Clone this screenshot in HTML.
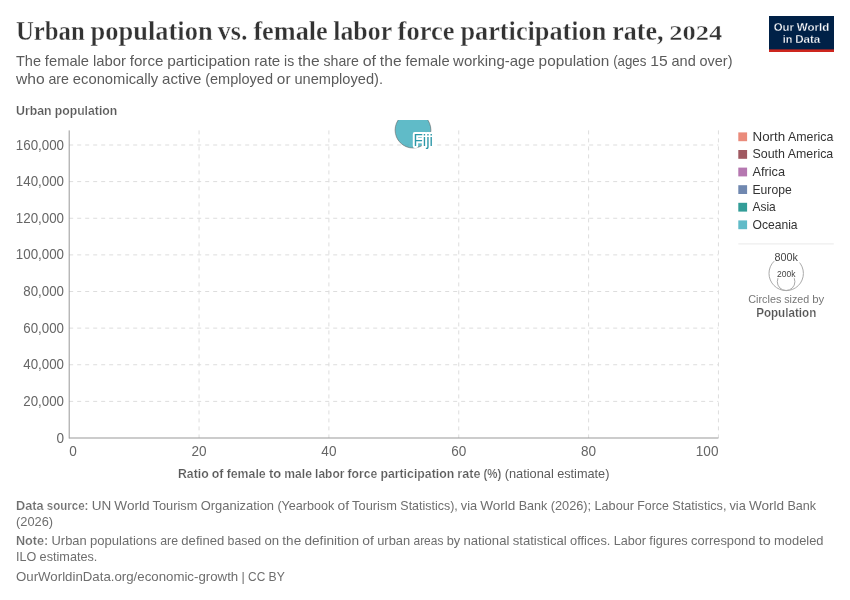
<!DOCTYPE html>
<html lang="en"><head><meta charset="utf-8"><title>Urban population vs. female labor force participation rate, 2024</title>
<style>html,body{margin:0;padding:0;background:#fff}svg{display:block}text{white-space:pre}</style></head><body>
<svg width="850" height="600" viewBox="0 0 850 600">
<rect width="850" height="600" fill="#fff"/>
<text id="t1" x="16" y="40.0" font-size="26.46" fill="#333" font-weight="600" text-anchor="start" font-family='"Liberation Serif", serif' stroke="#fff" stroke-width="0.35"><tspan x="16.00" textLength="68.73" lengthAdjust="spacingAndGlyphs">Urban</tspan> <tspan x="90.58" textLength="122.09" lengthAdjust="spacingAndGlyphs">population</tspan> <tspan x="217.84" textLength="29.70" lengthAdjust="spacingAndGlyphs">vs.</tspan> <tspan x="253.39" textLength="74.39" lengthAdjust="spacingAndGlyphs">female</tspan> <tspan x="333.19" textLength="58.55" lengthAdjust="spacingAndGlyphs">labor</tspan> <tspan x="397.58" textLength="57.03" lengthAdjust="spacingAndGlyphs">force</tspan> <tspan x="460.44" textLength="145.92" lengthAdjust="spacingAndGlyphs">participation</tspan> <tspan x="612.20" textLength="51.28" lengthAdjust="spacingAndGlyphs">rate,</tspan> <tspan x="669.19" font-size="20.5" textLength="53.05" lengthAdjust="spacingAndGlyphs">2024</tspan></text>
<text id="t2" x="16" y="66.0" font-size="15.0" fill="#5b5b5b" font-weight="400" text-anchor="start" font-family='"Liberation Sans", sans-serif'><tspan x="16.00" textLength="25.03" lengthAdjust="spacingAndGlyphs">The</tspan> <tspan x="44.86" textLength="44.19" lengthAdjust="spacingAndGlyphs">female</tspan> <tspan x="92.88" textLength="33.06" lengthAdjust="spacingAndGlyphs">labor</tspan> <tspan x="129.77" textLength="33.62" lengthAdjust="spacingAndGlyphs">force</tspan> <tspan x="167.22" textLength="83.22" lengthAdjust="spacingAndGlyphs">participation</tspan> <tspan x="254.25" textLength="25.98" lengthAdjust="spacingAndGlyphs">rate</tspan> <tspan x="284.06" textLength="10.11" lengthAdjust="spacingAndGlyphs">is</tspan> <tspan x="297.98" textLength="21.69" lengthAdjust="spacingAndGlyphs">the</tspan> <tspan x="323.50" textLength="35.41" lengthAdjust="spacingAndGlyphs">share</tspan> <tspan x="362.73" textLength="13.33" lengthAdjust="spacingAndGlyphs">of</tspan> <tspan x="379.89" textLength="21.69" lengthAdjust="spacingAndGlyphs">the</tspan> <tspan x="405.39" textLength="44.20" lengthAdjust="spacingAndGlyphs">female</tspan> <tspan x="453.11" textLength="81.67" lengthAdjust="spacingAndGlyphs">working-age</tspan> <tspan x="538.61" textLength="70.70" lengthAdjust="spacingAndGlyphs">population</tspan> <tspan x="613.14" textLength="33.30" lengthAdjust="spacingAndGlyphs">(ages</tspan> <tspan x="650.25" textLength="17.42" lengthAdjust="spacingAndGlyphs">15</tspan> <tspan x="671.50" textLength="24.23" lengthAdjust="spacingAndGlyphs">and</tspan> <tspan x="699.56" textLength="32.91" lengthAdjust="spacingAndGlyphs">over)</tspan></text>
<text id="t3" x="16" y="84.0" font-size="15.0" fill="#5b5b5b" font-weight="400" text-anchor="start" font-family='"Liberation Sans", sans-serif'><tspan x="16.00" textLength="28.67" lengthAdjust="spacingAndGlyphs">who</tspan> <tspan x="48.48" textLength="20.55" lengthAdjust="spacingAndGlyphs">are</tspan> <tspan x="72.86" textLength="85.34" lengthAdjust="spacingAndGlyphs">economically</tspan> <tspan x="162.02" textLength="39.33" lengthAdjust="spacingAndGlyphs">active</tspan> <tspan x="205.17" textLength="67.88" lengthAdjust="spacingAndGlyphs">(employed</tspan> <tspan x="276.88" textLength="13.67" lengthAdjust="spacingAndGlyphs">or</tspan> <tspan x="294.38" textLength="88.59" lengthAdjust="spacingAndGlyphs">unemployed).</tspan></text>
<g id="logo"><rect x="769" y="16" width="65" height="36" fill="#002147"/><rect x="769" y="49.4" width="65" height="2.6" fill="#ce261e"/>
<text id="t4" x="773.73" y="30.7" font-size="11.8" fill="#fff" font-weight="700" text-anchor="start" font-family='"Liberation Sans", sans-serif' stroke="#002147" stroke-width="0.3"><tspan x="773.73" textLength="20.27" lengthAdjust="spacingAndGlyphs">Our</tspan> <tspan x="796.77" textLength="32.50" lengthAdjust="spacingAndGlyphs">World</tspan></text>
<text id="t5" x="782.69" y="42.8" font-size="11.8" fill="#fff" font-weight="700" text-anchor="start" font-family='"Liberation Sans", sans-serif' stroke="#002147" stroke-width="0.3"><tspan x="782.69" textLength="9.66" lengthAdjust="spacingAndGlyphs">in</tspan> <tspan x="795.20" textLength="25.11" lengthAdjust="spacingAndGlyphs">Data</tspan></text>
</g>
<text id="t6" x="16" y="115.0" font-size="13.0" fill="#5b5b5b" font-weight="700" text-anchor="start" font-family='"Liberation Sans", sans-serif' stroke="#fff" stroke-width="0.2"><tspan x="16.00" textLength="35.61" lengthAdjust="spacingAndGlyphs">Urban</tspan> <tspan x="54.75" textLength="62.48" lengthAdjust="spacingAndGlyphs">population</tspan></text>
<line x1="69.2" y1="401.38" x2="718.45" y2="401.38" stroke="#ddd" stroke-width="1" stroke-dasharray="4,4"/>
<line x1="69.2" y1="364.75" x2="718.45" y2="364.75" stroke="#ddd" stroke-width="1" stroke-dasharray="4,4"/>
<line x1="69.2" y1="328.12" x2="718.45" y2="328.12" stroke="#ddd" stroke-width="1" stroke-dasharray="4,4"/>
<line x1="69.2" y1="291.50" x2="718.45" y2="291.50" stroke="#ddd" stroke-width="1" stroke-dasharray="4,4"/>
<line x1="69.2" y1="254.88" x2="718.45" y2="254.88" stroke="#ddd" stroke-width="1" stroke-dasharray="4,4"/>
<line x1="69.2" y1="218.25" x2="718.45" y2="218.25" stroke="#ddd" stroke-width="1" stroke-dasharray="4,4"/>
<line x1="69.2" y1="181.62" x2="718.45" y2="181.62" stroke="#ddd" stroke-width="1" stroke-dasharray="4,4"/>
<line x1="69.2" y1="145.00" x2="718.45" y2="145.00" stroke="#ddd" stroke-width="1" stroke-dasharray="4,4"/>
<line x1="199.05" y1="130.4" x2="199.05" y2="438" stroke="#ddd" stroke-width="1" stroke-dasharray="4,4"/>
<line x1="328.90" y1="130.4" x2="328.90" y2="438" stroke="#ddd" stroke-width="1" stroke-dasharray="4,4"/>
<line x1="458.75" y1="130.4" x2="458.75" y2="438" stroke="#ddd" stroke-width="1" stroke-dasharray="4,4"/>
<line x1="588.60" y1="130.4" x2="588.60" y2="438" stroke="#ddd" stroke-width="1" stroke-dasharray="4,4"/>
<line x1="718.45" y1="130.4" x2="718.45" y2="438" stroke="#ddd" stroke-width="1" stroke-dasharray="4,4"/>
<line x1="69.2" y1="130.4" x2="69.2" y2="438.5" stroke="#999" stroke-width="1"/>
<line x1="69.2" y1="438" x2="718.45" y2="438" stroke="#999" stroke-width="1"/>
<text id="t7" x="64.0" y="442.6" font-size="13.78" fill="#666" font-weight="400" text-anchor="end" font-family='"Liberation Sans", sans-serif' textLength="7.55" lengthAdjust="spacingAndGlyphs">0</text>
<text id="t8" x="64.0" y="405.98" font-size="13.78" fill="#666" font-weight="400" text-anchor="end" font-family='"Liberation Sans", sans-serif' textLength="40.66" lengthAdjust="spacingAndGlyphs">20,000</text>
<text id="t9" x="64.0" y="369.35" font-size="13.78" fill="#666" font-weight="400" text-anchor="end" font-family='"Liberation Sans", sans-serif' textLength="40.66" lengthAdjust="spacingAndGlyphs">40,000</text>
<text id="t10" x="64.0" y="332.73" font-size="13.78" fill="#666" font-weight="400" text-anchor="end" font-family='"Liberation Sans", sans-serif' textLength="40.66" lengthAdjust="spacingAndGlyphs">60,000</text>
<text id="t11" x="64.0" y="296.1" font-size="13.78" fill="#666" font-weight="400" text-anchor="end" font-family='"Liberation Sans", sans-serif' textLength="40.66" lengthAdjust="spacingAndGlyphs">80,000</text>
<text id="t12" x="64.0" y="259.48" font-size="13.78" fill="#666" font-weight="400" text-anchor="end" font-family='"Liberation Sans", sans-serif' textLength="48.20" lengthAdjust="spacingAndGlyphs">100,000</text>
<text id="t13" x="64.0" y="222.85" font-size="13.78" fill="#666" font-weight="400" text-anchor="end" font-family='"Liberation Sans", sans-serif' textLength="48.20" lengthAdjust="spacingAndGlyphs">120,000</text>
<text id="t14" x="64.0" y="186.22" font-size="13.78" fill="#666" font-weight="400" text-anchor="end" font-family='"Liberation Sans", sans-serif' textLength="48.20" lengthAdjust="spacingAndGlyphs">140,000</text>
<text id="t15" x="64.0" y="149.6" font-size="13.78" fill="#666" font-weight="400" text-anchor="end" font-family='"Liberation Sans", sans-serif' textLength="48.20" lengthAdjust="spacingAndGlyphs">160,000</text>
<text id="t16" x="69.2" y="456.2" font-size="13.78" fill="#666" font-weight="400" text-anchor="start" font-family='"Liberation Sans", sans-serif' textLength="7.55" lengthAdjust="spacingAndGlyphs">0</text>
<text id="t17" x="199.05" y="456.2" font-size="13.78" fill="#666" font-weight="400" text-anchor="middle" font-family='"Liberation Sans", sans-serif' textLength="15.09" lengthAdjust="spacingAndGlyphs">20</text>
<text id="t18" x="328.9" y="456.2" font-size="13.78" fill="#666" font-weight="400" text-anchor="middle" font-family='"Liberation Sans", sans-serif' textLength="15.09" lengthAdjust="spacingAndGlyphs">40</text>
<text id="t19" x="458.75" y="456.2" font-size="13.78" fill="#666" font-weight="400" text-anchor="middle" font-family='"Liberation Sans", sans-serif' textLength="15.09" lengthAdjust="spacingAndGlyphs">60</text>
<text id="t20" x="588.6" y="456.2" font-size="13.78" fill="#666" font-weight="400" text-anchor="middle" font-family='"Liberation Sans", sans-serif' textLength="15.09" lengthAdjust="spacingAndGlyphs">80</text>
<text id="t21" x="718.45" y="456.2" font-size="13.78" fill="#666" font-weight="400" text-anchor="end" font-family='"Liberation Sans", sans-serif' textLength="22.62" lengthAdjust="spacingAndGlyphs">100</text>
<text id="t22" x="178.01" y="477.5" font-size="13.0" fill="#5b5b5b" font-weight="700" font-family='"Liberation Sans", sans-serif' stroke="#fff" stroke-width="0.2"><tspan x="178.01" textLength="30.61" lengthAdjust="spacingAndGlyphs">Ratio</tspan> <tspan x="211.76" textLength="11.73" lengthAdjust="spacingAndGlyphs">of</tspan> <tspan x="226.64" textLength="39.09" lengthAdjust="spacingAndGlyphs">female</tspan> <tspan x="268.89" textLength="12.27" lengthAdjust="spacingAndGlyphs">to</tspan> <tspan x="284.29" textLength="27.67" lengthAdjust="spacingAndGlyphs">male</tspan> <tspan x="315.11" textLength="29.27" lengthAdjust="spacingAndGlyphs">labor</tspan> <tspan x="347.51" textLength="29.72" lengthAdjust="spacingAndGlyphs">force</tspan> <tspan x="380.39" textLength="73.83" lengthAdjust="spacingAndGlyphs">participation</tspan> <tspan x="457.36" textLength="23.02" lengthAdjust="spacingAndGlyphs">rate</tspan> <tspan x="483.51" textLength="17.81" lengthAdjust="spacingAndGlyphs">(%)</tspan></text>
<text id="t23" x="504.64" y="477.5" font-size="13.0" fill="#5b5b5b" font-weight="400" font-family='"Liberation Sans", sans-serif'><tspan x="504.64" textLength="49.19" lengthAdjust="spacingAndGlyphs">(national</tspan> <tspan x="557.14" textLength="52.25" lengthAdjust="spacingAndGlyphs">estimate)</tspan></text>
<defs><clipPath id="plotclip"><rect x="60" y="120" width="670" height="330"/></clipPath></defs>
<g clip-path="url(#plotclip)"><circle cx="413" cy="130.1" r="17.9" fill="#38aaba" fill-opacity="0.8" stroke="#666" stroke-width="0.6"/></g>
<text id="t24" x="413.4" y="146.3" font-size="15.912" fill="#2d98a8" font-weight="400" text-anchor="start" font-family='"Liberation Sans", sans-serif' textLength="19.64" lengthAdjust="spacingAndGlyphs" stroke="#fff" stroke-width="4" stroke-linejoin="round" paint-order="stroke">Fiji</text>
<rect x="738.3" y="132.40" width="8.8" height="8.8" fill="#ea8b7b"/>
<text id="t25" x="752.5" y="140.8" font-size="12.6" fill="#333" font-weight="400" text-anchor="start" font-family='"Liberation Sans", sans-serif'><tspan x="752.50" textLength="32.69" lengthAdjust="spacingAndGlyphs">North</tspan> <tspan x="787.98" textLength="45.41" lengthAdjust="spacingAndGlyphs">America</tspan></text>
<rect x="738.3" y="150.00" width="8.8" height="8.8" fill="#a05961"/>
<text id="t26" x="752.5" y="158.4" font-size="12.6" fill="#333" font-weight="400" text-anchor="start" font-family='"Liberation Sans", sans-serif'><tspan x="752.50" textLength="32.50" lengthAdjust="spacingAndGlyphs">South</tspan> <tspan x="787.80" textLength="45.41" lengthAdjust="spacingAndGlyphs">America</tspan></text>
<rect x="738.3" y="167.60" width="8.8" height="8.8" fill="#b577b0"/>
<text id="t27" x="752.5" y="176.0" font-size="12.6" fill="#333" font-weight="400" text-anchor="start" font-family='"Liberation Sans", sans-serif' textLength="32.55" lengthAdjust="spacingAndGlyphs">Africa</text>
<rect x="738.3" y="185.20" width="8.8" height="8.8" fill="#7088b0"/>
<text id="t28" x="752.5" y="193.6" font-size="12.6" fill="#333" font-weight="400" text-anchor="start" font-family='"Liberation Sans", sans-serif' textLength="39.20" lengthAdjust="spacingAndGlyphs">Europe</text>
<rect x="738.3" y="202.80" width="8.8" height="8.8" fill="#339d98"/>
<text id="t29" x="752.5" y="211.2" font-size="12.6" fill="#333" font-weight="400" text-anchor="start" font-family='"Liberation Sans", sans-serif' textLength="23.27" lengthAdjust="spacingAndGlyphs">Asia</text>
<rect x="738.3" y="220.40" width="8.8" height="8.8" fill="#60bbc8"/>
<text id="t30" x="752.5" y="228.8" font-size="12.6" fill="#333" font-weight="400" text-anchor="start" font-family='"Liberation Sans", sans-serif' textLength="45.12" lengthAdjust="spacingAndGlyphs">Oceania</text>
<line x1="738.3" y1="243.9" x2="833.8" y2="243.9" stroke="#eee" stroke-width="1.4"/>
<circle cx="786.2" cy="273.4" r="17.2" fill="none" stroke="#aaa" stroke-width="1"/>
<circle cx="786.1" cy="281.7" r="8.8" fill="none" stroke="#aaa" stroke-width="1"/>
<text id="t31" x="786.2" y="260.8" font-size="10.8" fill="#444" font-weight="400" text-anchor="middle" font-family='"Liberation Sans", sans-serif' stroke="#fff" stroke-width="3" paint-order="stroke">800k</text>
<text id="t32" x="786.2" y="276.8" font-size="8.5" fill="#444" font-weight="400" text-anchor="middle" font-family='"Liberation Sans", sans-serif' stroke="#fff" stroke-width="2.2" paint-order="stroke">200k</text>
<text id="t33" x="748.22" y="302.5" font-size="11.34" fill="#777" font-weight="400" text-anchor="start" font-family='"Liberation Sans", sans-serif'><tspan x="748.22" textLength="33.16" lengthAdjust="spacingAndGlyphs">Circles</tspan> <tspan x="784.25" textLength="24.98" lengthAdjust="spacingAndGlyphs">sized</tspan> <tspan x="812.13" textLength="12.05" lengthAdjust="spacingAndGlyphs">by</tspan></text>
<text id="t34" x="786.2" y="317.2" font-size="12.45" fill="#555" font-weight="700" text-anchor="middle" font-family='"Liberation Sans", sans-serif' textLength="60.11" lengthAdjust="spacingAndGlyphs" stroke="#fff" stroke-width="0.2">Population</text>
<text id="t35" x="16.00" y="510.0" font-size="13.0" fill="#6e6e6e" font-weight="700" font-family='"Liberation Sans", sans-serif' stroke="#fff" stroke-width="0.2"><tspan x="16.00" textLength="27.67" lengthAdjust="spacingAndGlyphs">Data</tspan> <tspan x="46.81" textLength="41.62" lengthAdjust="spacingAndGlyphs">source:</tspan></text>
<text id="t36" x="91.75" y="510.0" font-size="13.0" fill="#6e6e6e" font-weight="400" font-family='"Liberation Sans", sans-serif'><tspan x="91.75" textLength="19.52" lengthAdjust="spacingAndGlyphs">UN</tspan> <tspan x="114.39" textLength="35.20" lengthAdjust="spacingAndGlyphs">World</tspan> <tspan x="152.52" textLength="44.89" lengthAdjust="spacingAndGlyphs">Tourism</tspan> <tspan x="200.72" textLength="73.36" lengthAdjust="spacingAndGlyphs">Organization</tspan> <tspan x="277.39" textLength="56.94" lengthAdjust="spacingAndGlyphs">(Yearbook</tspan> <tspan x="337.64" textLength="11.56" lengthAdjust="spacingAndGlyphs">of</tspan> <tspan x="352.12" textLength="44.91" lengthAdjust="spacingAndGlyphs">Tourism</tspan> <tspan x="400.34" textLength="57.42" lengthAdjust="spacingAndGlyphs">Statistics),</tspan> <tspan x="460.77" textLength="16.31" lengthAdjust="spacingAndGlyphs">via</tspan> <tspan x="480.22" textLength="35.19" lengthAdjust="spacingAndGlyphs">World</tspan> <tspan x="518.72" textLength="28.64" lengthAdjust="spacingAndGlyphs">Bank</tspan> <tspan x="550.67" textLength="40.52" lengthAdjust="spacingAndGlyphs">(2026);</tspan> <tspan x="594.50" textLength="39.50" lengthAdjust="spacingAndGlyphs">Labour</tspan> <tspan x="637.31" textLength="31.59" lengthAdjust="spacingAndGlyphs">Force</tspan> <tspan x="672.22" textLength="54.25" lengthAdjust="spacingAndGlyphs">Statistics,</tspan> <tspan x="729.47" textLength="16.30" lengthAdjust="spacingAndGlyphs">via</tspan> <tspan x="748.91" textLength="35.20" lengthAdjust="spacingAndGlyphs">World</tspan> <tspan x="787.42" textLength="28.62" lengthAdjust="spacingAndGlyphs">Bank</tspan></text>
<text id="t37" x="16.0" y="525.5" font-size="13.0" fill="#6e6e6e" font-weight="400" text-anchor="start" font-family='"Liberation Sans", sans-serif' textLength="37.11" lengthAdjust="spacingAndGlyphs">(2026)</text>
<text id="t38" x="16.00" y="545.2" font-size="13.0" fill="#6e6e6e" font-weight="700" font-family='"Liberation Sans", sans-serif' stroke="#fff" stroke-width="0.2"><tspan x="16.00" textLength="32.23" lengthAdjust="spacingAndGlyphs">Note:</tspan></text>
<text id="t39" x="51.55" y="545.2" font-size="13.0" fill="#6e6e6e" font-weight="400" font-family='"Liberation Sans", sans-serif'><tspan x="51.55" textLength="35.11" lengthAdjust="spacingAndGlyphs">Urban</tspan> <tspan x="89.97" textLength="66.92" lengthAdjust="spacingAndGlyphs">populations</tspan> <tspan x="160.20" textLength="17.81" lengthAdjust="spacingAndGlyphs">are</tspan> <tspan x="181.33" textLength="42.92" lengthAdjust="spacingAndGlyphs">defined</tspan> <tspan x="227.56" textLength="33.53" lengthAdjust="spacingAndGlyphs">based</tspan> <tspan x="264.41" textLength="14.64" lengthAdjust="spacingAndGlyphs">on</tspan> <tspan x="282.36" textLength="18.80" lengthAdjust="spacingAndGlyphs">the</tspan> <tspan x="304.47" textLength="54.55" lengthAdjust="spacingAndGlyphs">definition</tspan> <tspan x="362.33" textLength="11.56" lengthAdjust="spacingAndGlyphs">of</tspan> <tspan x="377.20" textLength="32.98" lengthAdjust="spacingAndGlyphs">urban</tspan> <tspan x="413.50" textLength="29.89" lengthAdjust="spacingAndGlyphs">areas</tspan> <tspan x="446.70" textLength="13.52" lengthAdjust="spacingAndGlyphs">by</tspan> <tspan x="463.53" textLength="45.81" lengthAdjust="spacingAndGlyphs">national</tspan> <tspan x="512.66" textLength="54.06" lengthAdjust="spacingAndGlyphs">statistical</tspan> <tspan x="570.03" textLength="40.42" lengthAdjust="spacingAndGlyphs">offices.</tspan> <tspan x="613.77" textLength="32.27" lengthAdjust="spacingAndGlyphs">Labor</tspan> <tspan x="649.34" textLength="38.42" lengthAdjust="spacingAndGlyphs">figures</tspan> <tspan x="691.08" textLength="64.36" lengthAdjust="spacingAndGlyphs">correspond</tspan> <tspan x="758.75" textLength="12.02" lengthAdjust="spacingAndGlyphs">to</tspan> <tspan x="774.08" textLength="49.44" lengthAdjust="spacingAndGlyphs">modeled</tspan></text>
<text id="t40" x="16" y="560.5" font-size="13.0" fill="#6e6e6e" font-weight="400" text-anchor="start" font-family='"Liberation Sans", sans-serif'><tspan x="16.00" textLength="20.30" lengthAdjust="spacingAndGlyphs">ILO</tspan> <tspan x="39.61" textLength="57.77" lengthAdjust="spacingAndGlyphs">estimates.</tspan></text>
<text id="t41" x="16" y="581.0" font-size="13.0" fill="#6e6e6e" font-weight="400" text-anchor="start" font-family='"Liberation Sans", sans-serif'><tspan x="16.00" textLength="222.19" lengthAdjust="spacingAndGlyphs">OurWorldinData.org/economic-growth</tspan> <tspan x="241.50" textLength="3.27" lengthAdjust="spacingAndGlyphs">|</tspan> <tspan x="248.08" textLength="17.20" lengthAdjust="spacingAndGlyphs">CC</tspan> <tspan x="268.59" textLength="16.23" lengthAdjust="spacingAndGlyphs">BY</tspan></text>
</svg></body></html>
